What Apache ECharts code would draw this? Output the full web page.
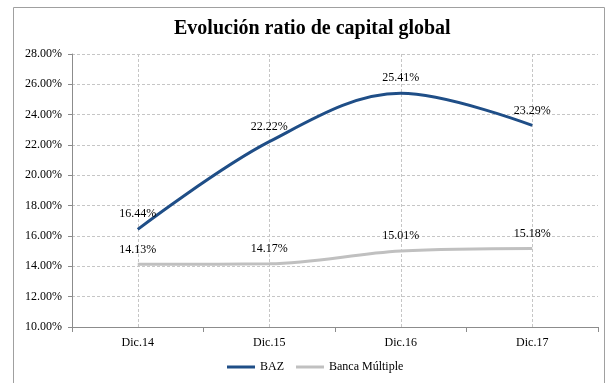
<!DOCTYPE html>
<html>
<head>
<meta charset="utf-8">
<script src="https://cdn.jsdelivr.net/npm/echarts@6/dist/echarts.min.js"></script>
<style>
  html, body { margin: 0; padding: 0; background: #fff; }
  #chart { width: 614px; height: 383px; }
</style>
</head>
<body>
<div id="chart"></div>
<script>
// categorias y valores (%)
const categories = ['Dic.14', 'Dic.15', 'Dic.16', 'Dic.17']
const bazData = [16.44, 22.22, 25.41, 23.29]
const bancaData = [14.13, 14.17, 15.01, 15.18]

const serif = '"Liberation Serif", "Times New Roman", serif'
const gridLine = { color: '#c6c6c6', width: 1, type: [3, 2] }

const myChart = echarts.init(document.getElementById('chart'))

function lineSeries(name, data, color) {
  return {
    name: name,
    type: 'line',
    data: data,
    smooth: 0.35,
    showSymbol: true,
    symbol: 'circle',
    symbolSize: 0,
    lineStyle: { color: color, width: 3 },
    itemStyle: { color: color },
    label: {
      show: true, position: 'top', distance: 9,
      fontFamily: serif, fontSize: 12, color: '#000',
      formatter: p => p.value.toFixed(2) + '%'
    }
  }
}

const option = {
  animation: false,
  textStyle: { fontFamily: serif },
  title: {
    text: 'Evolución ratio de capital global',
    left: 174,
    top: 19,
    padding: 0,
    textStyle: { fontFamily: serif, fontSize: 20, fontWeight: 'bold', color: '#000' }
  },
  graphic: [{
    type: 'rect',
    shape: { x: 13.5, y: 7.5, width: 591, height: 400 },
    style: { fill: 'none', stroke: '#a0a0a0', lineWidth: 1 },
    silent: true
  }],
  legend: {
    data: [
      { name: 'BAZ', icon: 'rect' },
      { name: 'Banca Múltiple', icon: 'rect' }
    ],
    left: 227,
    top: 361,
    padding: 0,
    itemWidth: 28,
    itemHeight: 3,
    itemGap: 12,
    textStyle: { fontFamily: serif, fontSize: 12, color: '#000' }
  },
  grid: { left: 72, right: 16, top: 54, bottom: 56 },
  xAxis: {
    type: 'category',
    data: categories,
    boundaryGap: true,
    axisLine: { lineStyle: { color: '#8c8c8c', width: 1 } },
    axisTick: { show: true, length: 5, lineStyle: { color: '#8c8c8c' } },
    splitLine: { show: true, alignWithLabel: true, lineStyle: gridLine },
    axisLabel: { fontFamily: serif, fontSize: 12, color: '#000', margin: 10 }
  },
  yAxis: {
    type: 'value',
    min: 10,
    max: 28,
    interval: 2,
    axisLine: { show: true, lineStyle: { color: '#8c8c8c', width: 1 } },
    axisTick: { show: true, length: 4, lineStyle: { color: '#8c8c8c' } },
    splitLine: { show: true, lineStyle: gridLine },
    axisLabel: {
      fontFamily: serif, fontSize: 12, color: '#000', margin: 10,
      formatter: v => v.toFixed(2) + '%'
    }
  },
  series: [
    lineSeries('Banca Múltiple', bancaData, '#c0c0c0'),
    lineSeries('BAZ', bazData, '#1f4e87')
  ]
}

myChart.setOption(option)
</script>
</body>
</html>
